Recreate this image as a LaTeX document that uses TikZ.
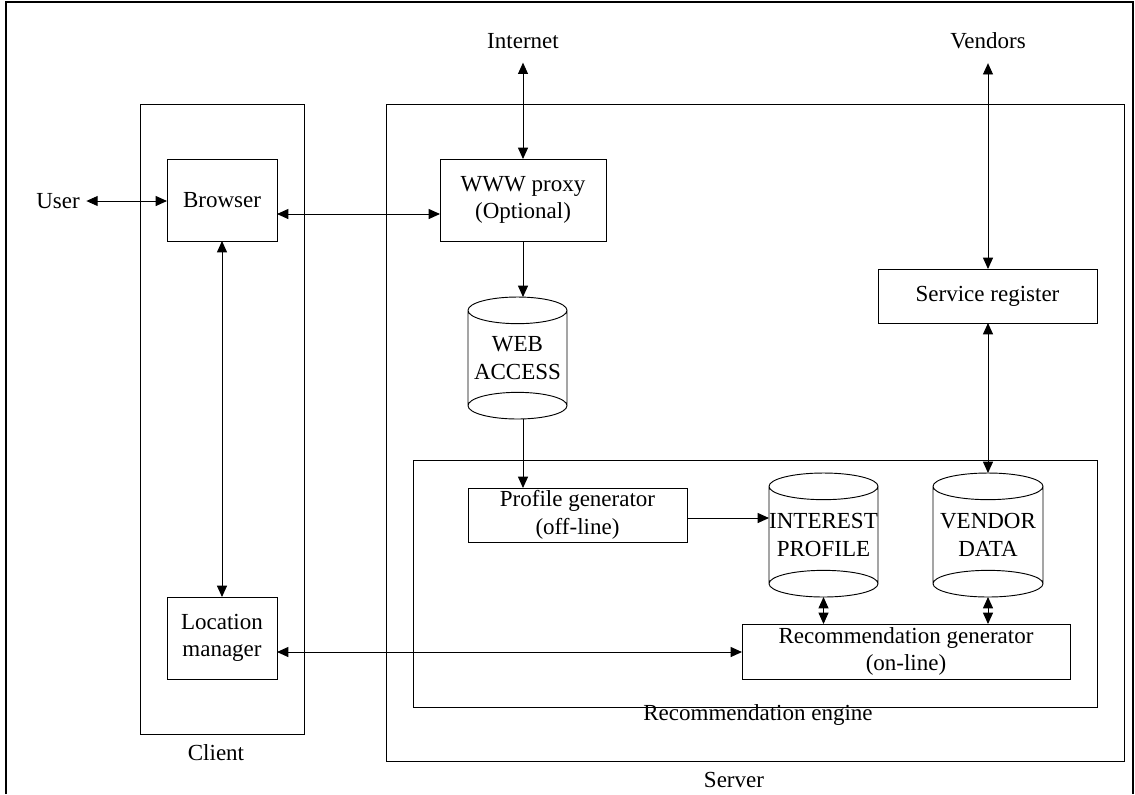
\documentclass[tikz,border=0pt]{standalone}
\usepackage{fontspec}
\setmainfont{Liberation Serif}
\usetikzlibrary{arrows.meta,calc}
\newcommand\drawcyl[1]{%
  \draw[line width=0.7pt] let \p1=(#1.north west), \p2=(#1.north east), \n1={(\x2-\x1)/2} in
    ([yshift=-10pt]#1.north west) -- ([yshift=10pt]#1.south west)
    ([yshift=-10pt]#1.north east) -- ([yshift=10pt]#1.south east)
    ([yshift=-10pt]#1.north) ellipse [x radius={\n1*1pt}, y radius=10pt]
    ([yshift=10pt]#1.south) ellipse [x radius={\n1*1pt}, y radius=10pt];%
}
\begin{document}
\begin{tikzpicture}[x=0.75pt,y=-0.75pt,
  every node/.style={font=\fontsize{17.25pt}{20.6pt}\selectfont, inner sep=0pt, outer sep=0pt, align=center},
  box/.style={draw, line width=0.7pt},
  sz/.style 2 args={minimum width=#1*0.75pt, minimum height=#2*0.75pt},
  conn/.style={line width=0.7pt, {Triangle[length=8.5pt,width=7.5pt]}-{Triangle[length=8.5pt,width=7.5pt]}},
  one/.style={line width=0.7pt, -{Triangle[length=8.5pt,width=7.5pt]}}
]
\useasboundingbox (0,0) rectangle (1135,794);
% outer frame
\draw[line width=1.5pt] (6,794) -- (6,2) -- (1133,2) -- (1133,794);

% containers
\node[box, sz={164}{630}] (client) at (222,419) {};
\node[box, sz={738}{657}] (server) at (755,432.5) {};
\node[box, sz={684}{247}] (engine) at (755,583.5) {};
\node (clientlab) at (216,753) {Client};
\node (serverlab) at (734,780) {Server};
\node (enginelab) at (758,715) {Recommendation engine};

% outside labels
\node (user) at (58,201) {User};
\node (internet) at (523,41) {Internet};
\node (vendors) at (988,41) {Vendors};

% boxes
\node[box, sz={110}{82}] (browser) at (222,200) {Browser};
\node[box, sz={166}{82}] (www) at (523,200) {WWW proxy\\(Optional)};
\node[box, sz={219}{54}] (sr) at (987.5,296) {Service register};
\node[box, sz={219}{54}] (pg) at (577.5,515) {Profile generator\\(off-line)};
\node[box, sz={328}{55}] (rg) at (906,651.5) {Recommendation generator\\(on-line)};
\node[box, sz={110}{82}] (lm) at (222,638) {Location\\manager};

% cylinders
\node[sz={99}{122}] (wa) at (517.5,358) {WEB\\ACCESS};
\node[sz={109}{124}] (ip) at (823.5,535) {INTEREST\\PROFILE};
\node[sz={110}{124}] (vd) at (988,535) {VENDOR\\DATA};
\drawcyl{wa}
\drawcyl{ip}
\drawcyl{vd}

% connectors
\draw[conn] ([xshift=5pt]user.east) -- (browser.west |- user.east);
\draw[conn] ([yshift=-10.5pt]browser.east) -- ([yshift=-10.5pt]www.west);
\draw[conn] ([yshift=-10.5pt]internet.south) -- (www.north);
\draw[one] (www.south) -- (www.south |- wa.north);
\draw[one] (www.south |- wa.south) -- (www.south |- pg.north);
\draw[one] ([yshift=-2.25pt]pg.east) -- ([yshift=-2.25pt]pg.east -| ip.west);
\draw[conn] ([yshift=-10.5pt]vendors.south) -- (vendors.south |- sr.north);
\draw[conn] (vendors.south |- sr.south) -- (vd.north);
\draw[conn] (ip.south) -- (ip.south |- rg.north);
\draw[conn] (vd.south) -- (vd.south |- rg.north);
\draw[conn] (browser.south) -- (lm.north);
\draw[conn] ([yshift=-10.5pt]lm.east) -- ([yshift=-10.5pt]lm.east -| rg.west);
\end{tikzpicture}
\end{document}
